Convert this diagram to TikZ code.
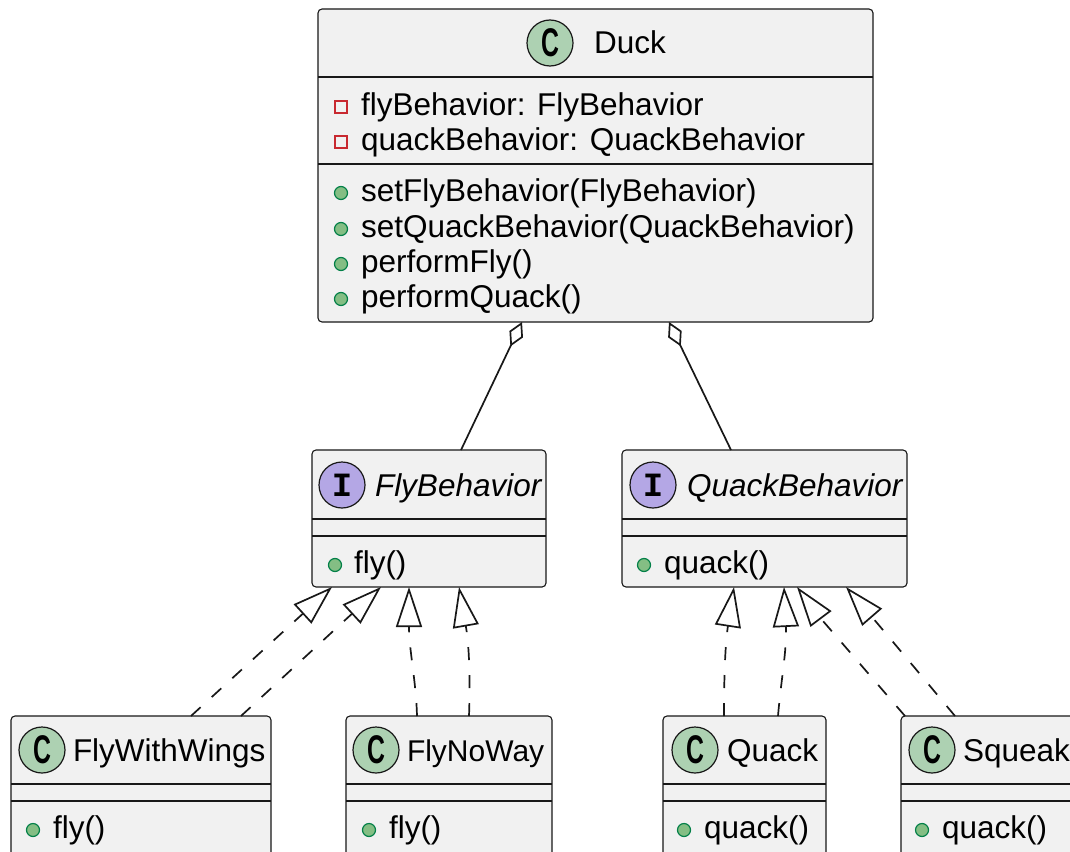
\documentclass[tikz,border=0pt]{standalone}
\usepackage{fontspec}
\usepackage{graphicx}
\setmainfont{Liberation Sans}
\newfontfamily\spotmono{Liberation Mono}
\usetikzlibrary{arrows.meta}

\definecolor{edgeink}{HTML}{181818}
\definecolor{boxfill}{HTML}{F1F1F1}
\definecolor{classspot}{HTML}{ADD1B2}
\definecolor{ifacespot}{HTML}{B4A7E5}
\definecolor{privred}{HTML}{C82930}
\definecolor{pubfill}{HTML}{84BE84}
\definecolor{publine}{HTML}{038048}

% glyphs inside the stereotype circles
\newcommand\classletter{\scalebox{0.62}[1]{\fontsize{40}{40}\selectfont\bfseries C}}
\newcommand\ifaceletter{{\spotmono\fontsize{34}{34}\selectfont\bfseries I}}

\tikzset{
  umlbox/.style={draw=edgeink, fill=boxfill, line width=1.1pt, rounded corners=4pt,
                 anchor=north west, inner sep=0pt, outer sep=0pt},
  sepline/.style={draw=edgeink, line width=1.1pt},
  member/.style={anchor=base west, inner sep=0pt, outer sep=0pt,
                 font=\fontsize{31.5}{36}\selectfont, text=black},
  ifacename/.style={member, font=\fontsize{31.5}{36}\selectfont\itshape},
  spot/.style={circle, draw=edgeink, line width=1.2pt, minimum size=46pt, inner sep=0pt},
  cspot/.style={spot, fill=classspot},
  ispot/.style={spot, fill=ifacespot},
  privmark/.style={rectangle, draw=privred, line width=1.2pt, minimum size=12pt, inner sep=0pt},
  pubmark/.style={circle, draw=publine, fill=pubfill, line width=1.2pt, minimum size=13pt, inner sep=0pt},
  aggr/.style={draw=edgeink, line width=1.7pt, {Diamond[open, length=27pt, width=15pt]}-},
  realize/.style={draw=edgeink, line width=1.7pt, dash pattern=on 13pt off 15pt,
                  -{Triangle[open, length=40pt, width=26pt]}},
}

\begin{document}
\begin{tikzpicture}[x=1pt, y=-1pt]
\useasboundingbox (0,0) rectangle (1070,851);
\clip (0,0) rectangle (1070,851);
\fill[white] (0,0) rectangle (1070,851);

% ---- Duck ----
\node[umlbox, minimum width=555pt, minimum height=313pt] (duck) at (318,9) {};
\node[cspot] (duckspot) at (550,43) {\classletter};
\node[member] (duckname) at (594,54) {Duck};
\draw[sepline] (318,77) -- (873,77);
\draw[sepline] (318,164) -- (873,164);
\node[privmark] (dm1) at (341,107) {};
\node[member] (dt1) at (361,115) {flyBehavior: FlyBehavior};
\node[privmark] (dm2) at (341,142) {};
\node[member] (dt2) at (361,150) {quackBehavior: QuackBehavior};
\node[pubmark] (dm3) at (341,193) {};
\node[member] (dt3) at (361,201) {setFlyBehavior(FlyBehavior)};
\node[pubmark] (dm4) at (341,229) {};
\node[member] (dt4) at (361,237) {setQuackBehavior(QuackBehavior)};
\node[pubmark] (dm5) at (341,264) {};
\node[member] (dt5) at (361,272) {performFly()};
\node[pubmark] (dm6) at (341,299) {};
\node[member] (dt6) at (361,307) {performQuack()};

% ---- FlyBehavior ----
\node[umlbox, minimum width=234pt, minimum height=137pt] (fly) at (312,450) {};
\node[ispot] (flyspot) at (342,485) {\ifaceletter};
\node[ifacename] (flyname) at (375,496) {FlyBehavior};
\draw[sepline] (312,519) -- (546,519);
\draw[sepline] (312,536) -- (546,536);
\node[pubmark] (fm1) at (335,565) {};
\node[member] (ft1) at (354,573) {fly()};

% ---- QuackBehavior ----
\node[umlbox, minimum width=285pt, minimum height=137pt] (quackb) at (622,450) {};
\node[ispot] (qbspot) at (653,485) {\ifaceletter};
\node[ifacename] (qbname) at (687,496) {QuackBehavior};
\draw[sepline] (622,519) -- (907,519);
\draw[sepline] (622,536) -- (907,536);
\node[pubmark] (qm1) at (644,565) {};
\node[member] (qt1) at (664,573) {quack()};

% ---- FlyWithWings ----
\node[umlbox, minimum width=260pt, minimum height=150pt] (wings) at (11,716) {};
\node[cspot] (wingsspot) at (42,750) {\classletter};
\node[member] (wingsname) at (73,761) {FlyWithWings};
\draw[sepline] (11,784) -- (271,784);
\draw[sepline] (11,801) -- (271,801);
\node[pubmark] (wm1) at (33,830) {};
\node[member] (wt1) at (53,838) {fly()};

% ---- FlyNoWay ----
\node[umlbox, minimum width=206pt, minimum height=150pt] (noway) at (346,716) {};
\node[cspot] (nowayspot) at (376,750) {\classletter};
\node[member, font=\fontsize{30}{36}\selectfont] (nowayname) at (407,761) {FlyNoWay};
\draw[sepline] (346,784) -- (552,784);
\draw[sepline] (346,801) -- (552,801);
\node[pubmark] (nm1) at (369,830) {};
\node[member] (nt1) at (389,838) {fly()};

% ---- Quack ----
\node[umlbox, minimum width=163pt, minimum height=150pt] (quack) at (663,716) {};
\node[cspot] (quackspot) at (695,750) {\classletter};
\node[member] (quackname) at (727,761) {Quack};
\draw[sepline] (663,784) -- (826,784);
\draw[sepline] (663,801) -- (826,801);
\node[pubmark] (km1) at (684,830) {};
\node[member] (kt1) at (704,838) {quack()};

% ---- Squeak ----
\node[umlbox, minimum width=220pt, minimum height=150pt] (squeak) at (901,716) {};
\node[cspot] (squeakspot) at (932,750) {\classletter};
\node[member] (squeakname) at (963,761) {Squeak};
\draw[sepline] (901,784) -- (1121,784);
\draw[sepline] (901,801) -- (1121,801);
\node[pubmark] (sm1) at (922,830) {};
\node[member] (st1) at (942,838) {quack()};

% ---- aggregations ----
\draw[aggr] ([xshift=204pt]duck.south west) -- ([xshift=149pt]fly.north west);
\draw[aggr] ([xshift=351pt]duck.south west) -- ([xshift=109pt]quackb.north west);

% ---- realizations ----
\draw[realize] ([xshift=180pt]wings.north west) -- ([xshift=20pt]fly.south west);
\draw[realize] ([xshift=230pt]wings.north west) -- ([xshift=69pt]fly.south west);
\draw[realize] ([xshift=71pt]noway.north west) .. controls (416,680) and (409,650) .. ([xshift=97pt]fly.south west);
\draw[realize] ([xshift=123pt]noway.north west) .. controls (470,690) and (470,650) .. ([xshift=147pt]fly.south west);
\draw[realize] ([xshift=61pt]quack.north west) .. controls (724,680) and (725,645) .. ([xshift=112pt]quackb.south west);
\draw[realize] ([xshift=115pt]quack.north west) .. controls (781,680) and (787,650) .. ([xshift=162pt]quackb.south west);
\draw[realize] ([xshift=4pt]squeak.north west) .. controls (860,664) and (818,615) .. ([xshift=175pt]quackb.south west);
\draw[realize] ([xshift=54pt]squeak.north west) .. controls (915,668) and (872,617) .. ([xshift=224pt]quackb.south west);
\end{tikzpicture}
\end{document}
